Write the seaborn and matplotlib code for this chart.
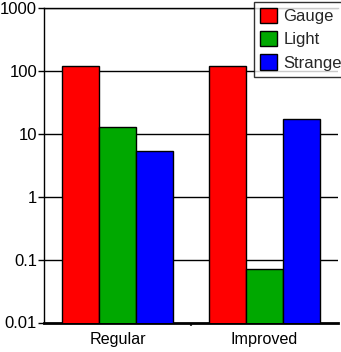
import matplotlib
matplotlib.use("Agg")
import matplotlib.pyplot as plt
import seaborn as sns
import pandas as pd
from matplotlib.ticker import FixedLocator, FixedFormatter

# Data
methods = ["Regular", "Improved"]
quarks = ["Gauge", "Light", "Strange"]
gauge = [120, 120]
light = [13, 0.070]
strange = [5.4, 17.5]
y_ticks = [0.01, 0.1, 1, 10, 100, 1000]
y_tick_labels = ["0.01", "0.1", "1", "10", "100", "1000"]
palette = {"Gauge": "#ff0000", "Light": "#00a800", "Strange": "#0000ff"}

rows = []
for i, m in enumerate(methods):
    for q, vals in zip(quarks, [gauge, light, strange]):
        rows.append({"method": m, "quark": q, "value": vals[i]})
df = pd.DataFrame(rows)

sns.set_style("white")
plt.rcParams["font.family"] = ["Liberation Sans", "DejaVu Sans"]

fig = plt.figure(figsize=(3.41, 3.52), dpi=100)
ax = fig.add_axes([44 / 341, 29.5 / 352, 294 / 341, 314.5 / 352])
ax.set_yscale("log")
ax.set_ylim(0.01, 1000)

sns.barplot(data=df, x="method", y="value", hue="quark", palette=palette,
            order=methods, hue_order=quarks, width=0.75, gap=0,
            edgecolor="black", linewidth=1, saturation=1, ax=ax,
            zorder=3)
ax.set_xlim(-0.5, 1.5)
ax.set_ylim(0.01, 1000)

# horizontal grid at each decade
for t in y_ticks[1:]:
    ax.axhline(t, color="black", linewidth=1, zorder=1)

ax.yaxis.set_major_locator(FixedLocator(y_ticks))
ax.yaxis.set_major_formatter(FixedFormatter(y_tick_labels))
ax.yaxis.set_minor_locator(FixedLocator([]))
ax.tick_params(axis="y", which="major", left=True, length=4, width=1,
               color="black", labelsize=12, pad=1, labelcolor="black")
ax.tick_params(axis="x", which="major", bottom=False, labelsize=11.6,
               pad=3, labelcolor="black")
ax.xaxis.set_minor_locator(FixedLocator([0.5]))
ax.tick_params(axis="x", which="minor", bottom=True, length=2, width=1.5,
               color="#444444")
ax.set_xlabel("")
ax.set_ylabel("")

for side in ["top", "left", "bottom"]:
    ax.spines[side].set_visible(True)
    ax.spines[side].set_color("black")
ax.spines["right"].set_visible(False)
ax.spines["top"].set_linewidth(1)
ax.spines["left"].set_linewidth(1)
ax.spines["bottom"].set_linewidth(2)

leg = ax.legend(loc="upper left", bbox_to_anchor=((254 - 44) / 294, 1.02),
                fontsize=12,
                frameon=True, fancybox=False, edgecolor="black",
                handlelength=1.05, handleheight=1.05, handletextpad=0.35,
                labelspacing=0.42, borderpad=0.35, borderaxespad=0)
leg.get_frame().set_linewidth(1)
leg.set_zorder(5)

fig.savefig("out.png", dpi=100)
